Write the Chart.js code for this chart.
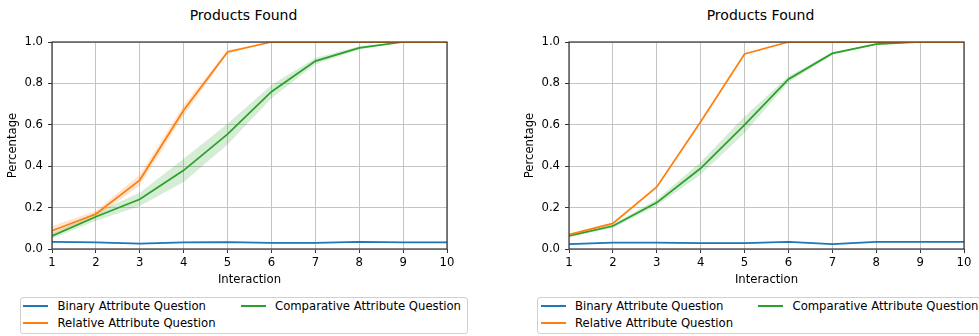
<!DOCTYPE html>
<html>
<head>
<meta charset="utf-8">
<title>Products Found</title>
<script src="https://cdn.jsdelivr.net/npm/chart.js@4.4.1/dist/chart.umd.min.js"></script>
<style>
    body { margin: 0; width: 979px; height: 336px; overflow: hidden; background: #fff; position: relative; font-family: 'DejaVu Sans', sans-serif; }
    .panel { position: absolute; top: 0; height: 292px; }
    .title { position: absolute; top: 8px; font-size: 14px; line-height: 14px; white-space: nowrap; color: #000; transform: translateX(-50%); }
    .legend { position: absolute; top: 297px; height: 37px; border: 1px solid #d0d0d0; border-radius: 3px; box-sizing: border-box; background: #fff; font-size: 11.67px; color: #000; }
    .legend .item { position: absolute; line-height: 14px; white-space: nowrap; }
    .legend .swatch { position: absolute; width: 25px; height: 2px; }
</style>
</head>
<body>
<div class="title" style="left:243.5px">Products Found</div>
<div class="title" style="left:760.5px">Products Found</div>
<div class="panel" style="left:0;width:490px"><canvas id="chart-left"></canvas></div>
<div class="panel" style="left:490px;width:489px"><canvas id="chart-right"></canvas></div>
<div class="legend" id="legend-left" style="left:19.5px;width:448px"></div>
<div class="legend" id="legend-right" style="left:537px;width:460px"></div>

<script>
// x 轴交互轮次与 y 轴刻度
const interactions = ['1', '2', '3', '4', '5', '6', '7', '8', '9', '10'];
const yTicks = [0, 0.2, 0.4, 0.6, 0.8, 1.0];

const seriesNames = ['Binary Attribute Question', 'Relative Attribute Question', 'Comparative Attribute Question'];
const seriesColors = ['#1f77b4', '#ff7f0e', '#2ca02c'];

// 左图：均值与误差带半宽
const leftBinary = [0.035, 0.032, 0.026, 0.032, 0.033, 0.029, 0.029, 0.034, 0.032, 0.032];
const leftBinaryErr = [0.004, 0.003, 0.003, 0.003, 0.003, 0.003, 0.003, 0.003, 0.003, 0.003];
const leftRelative = [0.088, 0.169, 0.333, 0.67, 0.952, 1.0, 1.0, 1.0, 1.0, 1.0];
const leftRelativeErr = [0.022, 0.016, 0.026, 0.025, 0.008, 0, 0, 0, 0, 0];
const leftComparative = [0.063, 0.156, 0.24, 0.38, 0.555, 0.76, 0.908, 0.972, 1.0, 1.0];
const leftComparativeErr = [0.012, 0.02, 0.032, 0.056, 0.05, 0.032, 0.015, 0.008, 0, 0];

// 右图
const rightBinary = [0.024, 0.031, 0.031, 0.028, 0.028, 0.035, 0.024, 0.034, 0.034, 0.034];
const rightBinaryErr = [0.003, 0.003, 0.003, 0.003, 0.003, 0.003, 0.003, 0.003, 0.003, 0.003];
const rightRelative = [0.069, 0.124, 0.30, 0.615, 0.942, 1.0, 1.0, 1.0, 1.0, 1.0];
const rightRelativeErr = [0.003, 0.003, 0.004, 0.004, 0.003, 0, 0, 0, 0, 0];
const rightComparative = [0.063, 0.111, 0.224, 0.39, 0.60, 0.82, 0.945, 0.99, 1.0, 1.0];
const rightComparativeErr = [0.005, 0.008, 0.015, 0.03, 0.04, 0.015, 0.006, 0.003, 0, 0];

Chart.defaults.font.family = "'DejaVu Sans', sans-serif";
Chart.defaults.font.size = 11.67;
Chart.defaults.color = '#000';

function hexToRgba(hex, a) {
    const n = parseInt(hex.slice(1), 16);
    return `rgba(${(n >> 16) & 255},${(n >> 8) & 255},${n & 255},${a})`;
}

// 外框四边
const framePlugin = {
    id: 'frame',
    afterDatasetsDraw(chart) {
        const { ctx, chartArea: a } = chart;
        ctx.save();
        ctx.strokeStyle = '#333';
        ctx.lineWidth = 1.2;
        ctx.strokeRect(a.left, a.top, a.right - a.left, a.bottom - a.top);
        ctx.restore();
    }
};

function buildDatasets(means, errs) {
    const lines = [];
    const bands = [];
    means.forEach((m, i) => {
        const color = seriesColors[i];
        lines.push({
            label: seriesNames[i],
            data: m,
            borderColor: color,
            borderWidth: 1.75,
            pointRadius: 0,
            tension: 0,
            fill: false,
            order: 0
        });
        bands.push({
            data: m.map((v, k) => v - errs[i][k]),
            borderColor: 'transparent',
            borderWidth: 0,
            pointRadius: 0,
            fill: false,
            order: 1
        });
        bands.push({
            data: m.map((v, k) => v + errs[i][k]),
            borderColor: 'transparent',
            borderWidth: 0,
            pointRadius: 0,
            backgroundColor: hexToRgba(color, 0.2),
            fill: '-1',
            order: 1
        });
    });
    return lines.concat(bands);
}

function makeChart(id, means, errs, padLeft, padRight) {
    return new Chart(document.getElementById(id), {
        type: 'line',
        data: { labels: interactions, datasets: buildDatasets(means, errs) },
        options: {
            responsive: true,
            maintainAspectRatio: false,
            animation: false,
            layout: { padding: { left: padLeft, right: padRight, top: 42, bottom: 0 } },
            plugins: { legend: { display: false }, tooltip: { enabled: false } },
            scales: {
                x: {
                    offset: false,
                    border: { display: false },
                    grid: { color: '#c4c4c4', lineWidth: 1, tickColor: '#333', tickLength: 4, tickWidth: 1 },
                    ticks: { padding: 3, maxRotation: 0, autoSkip: false },
                    title: { display: true, text: 'Interaction', padding: { top: 0, bottom: 5 } },
                    afterFit(scale) { scale.height = 43; }
                },
                y: {
                    min: 0,
                    max: 1,
                    border: { display: false },
                    grid: { color: '#c4c4c4', lineWidth: 1, tickColor: '#333', tickLength: 4, tickWidth: 1 },
                    ticks: { padding: 5, callback: v => Number(v).toFixed(1) },
                    afterBuildTicks(scale) { scale.ticks = yTicks.map(v => ({ value: v })); },
                    title: { display: true, text: 'Percentage', padding: { top: 6, bottom: 0 } },
                    afterFit(scale) { scale.width = 52; }
                }
            }
        },
        plugins: [framePlugin]
    });
}

function renderLegend(id) {
    const box = document.getElementById(id);
    // 两列：前两项在左列，第三项在右列
    const slots = [[2.5, 7.7], [2.5, 25.3], [220, 7.7]];
    const textOffset = 34.5;
    seriesNames.forEach((name, i) => {
        const [x, cy] = slots[i];
        const sw = document.createElement('div');
        sw.className = 'swatch';
        sw.style.left = x + 'px';
        sw.style.top = (cy - 1) + 'px';
        sw.style.background = seriesColors[i];
        box.appendChild(sw);
        const t = document.createElement('div');
        t.className = 'item';
        t.style.left = (x + textOffset) + 'px';
        t.style.top = (cy - 7) + 'px';
        t.textContent = name;
        box.appendChild(t);
    });
}

makeChart('chart-left',
    [leftBinary, leftRelative, leftComparative],
    [leftBinaryErr, leftRelativeErr, leftComparativeErr], 0, 43);
makeChart('chart-right',
    [rightBinary, rightRelative, rightComparative],
    [rightBinaryErr, rightRelativeErr, rightComparativeErr], 27, 15);
renderLegend('legend-left');
renderLegend('legend-right');
</script>
</body>
</html>
